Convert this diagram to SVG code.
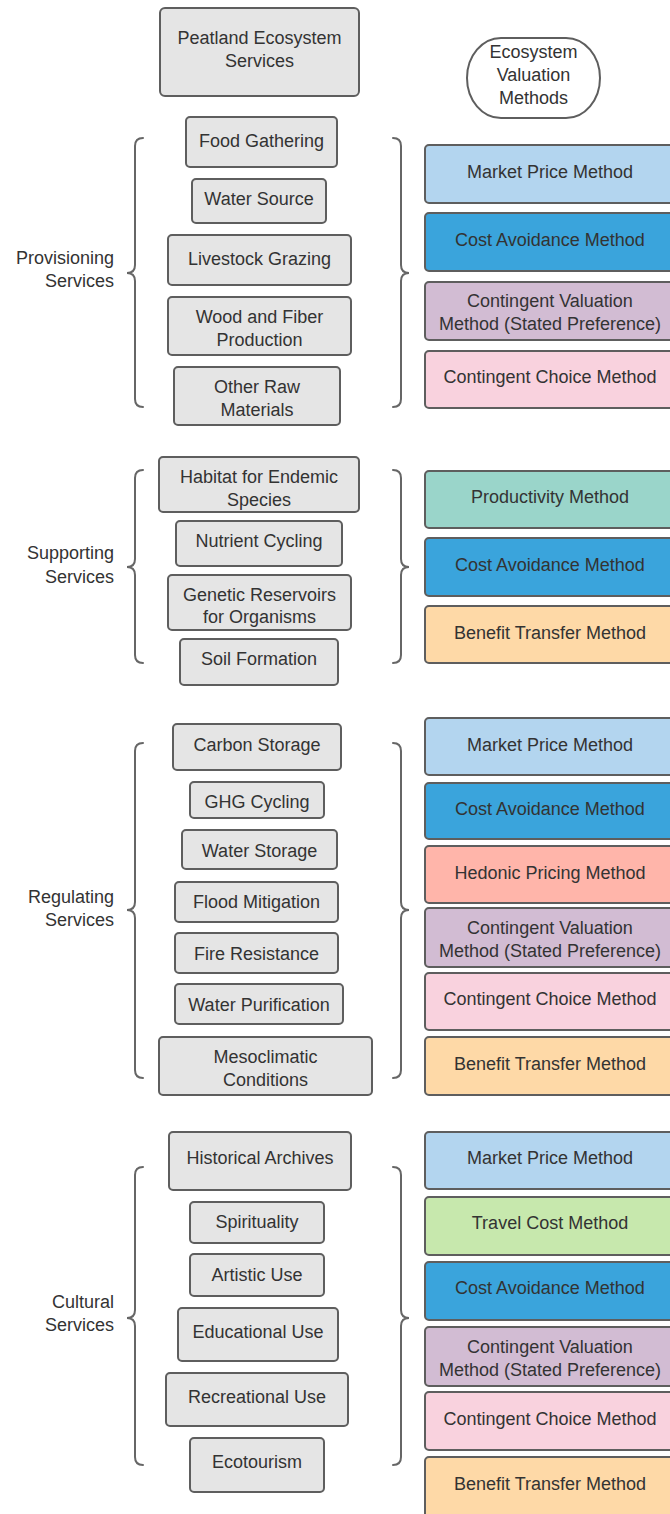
<svg xmlns="http://www.w3.org/2000/svg" width="670" height="1514" viewBox="0 0 670 1514">
  <style>
    text { font-family: "Liberation Sans", Arial, sans-serif; font-size: 18px; fill: #333333; text-anchor: middle; }
    .lbl { text-anchor: end; }
    .svc { fill: #e5e5e5; stroke: #5e5e5e; stroke-width: 2; }
    .m { stroke: #5e5e5e; stroke-width: 2; }
    .mp { fill: #b3d5ef; }
    .ca { fill: #3aa4dc; }
    .cv { fill: #d2bcd3; }
    .cc { fill: #f9d2de; }
    .pr { fill: #9ad5ca; }
    .bt { fill: #fed9a7; }
    .hp { fill: #ffb5aa; }
    .tc { fill: #c7e8ad; }
    .brace { fill: none; stroke: #666666; stroke-width: 2; stroke-linecap: round; }
  </style>

  <!-- headers -->
  <g id="title">
    <rect class="svc" x="160" y="8" width="199" height="88" rx="5"/>
    <text x="259.5" y="44">Peatland Ecosystem</text>
    <text x="259.5" y="67">Services</text>
  </g>
  <g id="methods-title">
    <rect x="467" y="38" width="133" height="80" rx="34" ry="40" fill="#ffffff" stroke="#5e5e5e" stroke-width="2"/>
    <text x="533.5" y="58">Ecosystem</text>
    <text x="533.5" y="81">Valuation</text>
    <text x="533.5" y="104">Methods</text>
  </g>

  <!-- braces grouping each service category -->
  <g id="connectors">
    <path class="brace" d="M143,138 Q135,138 135,146 L135,265 Q135,273 127,273 Q135,273 135,281 L135,399 Q135,407 143,407"/>
    <path class="brace" d="M393,138 Q401,138 401,146 L401,265 Q401,273 409,273 Q401,273 401,281 L401,399 Q401,407 393,407"/>
    <path class="brace" d="M143,470 Q135,470 135,478 L135,559 Q135,567 127,567 Q135,567 135,575 L135,655 Q135,663 143,663"/>
    <path class="brace" d="M393,470 Q401,470 401,478 L401,559 Q401,567 409,567 Q401,567 401,575 L401,655 Q401,663 393,663"/>
    <path class="brace" d="M143,743 Q135,743 135,751 L135,902 Q135,910 127,910 Q135,910 135,918 L135,1070 Q135,1078 143,1078"/>
    <path class="brace" d="M393,743 Q401,743 401,751 L401,902 Q401,910 409,910 Q401,910 401,918 L401,1070 Q401,1078 393,1078"/>
    <path class="brace" d="M143,1167 Q135,1167 135,1175 L135,1310 Q135,1318 127,1318 Q135,1318 135,1326 L135,1457 Q135,1465 143,1465"/>
    <path class="brace" d="M393,1167 Q401,1167 401,1175 L401,1310 Q401,1318 409,1318 Q401,1318 401,1326 L401,1457 Q401,1465 393,1465"/>
  </g>

  <!-- category labels -->
  <g id="label-provisioning"><text class="lbl" x="114" y="264">Provisioning</text><text class="lbl" x="114" y="287">Services</text></g>
  <g id="label-supporting"><text class="lbl" x="114" y="559">Supporting</text><text class="lbl" x="114" y="583">Services</text></g>
  <g id="label-regulating"><text class="lbl" x="114" y="903">Regulating</text><text class="lbl" x="114" y="926">Services</text></g>
  <g id="label-cultural"><text class="lbl" x="114" y="1308">Cultural</text><text class="lbl" x="114" y="1331">Services</text></g>

  <!-- provisioning services -->
  <g id="food-gathering"><rect class="svc" x="186" y="117" width="151" height="50" rx="4"/><text x="261.5" y="147">Food Gathering</text></g>
  <g id="water-source"><rect class="svc" x="192" y="179" width="134" height="44" rx="4"/><text x="259" y="205">Water Source</text></g>
  <g id="livestock-grazing"><rect class="svc" x="168" y="235" width="183" height="50" rx="4"/><text x="259.5" y="265">Livestock Grazing</text></g>
  <g id="wood-fiber"><rect class="svc" x="168" y="297" width="183" height="58" rx="4"/><text x="259.5" y="323">Wood and Fiber</text><text x="259.5" y="346">Production</text></g>
  <g id="other-raw"><rect class="svc" x="174" y="367" width="166" height="58" rx="4"/><text x="257" y="393">Other Raw</text><text x="257" y="416">Materials</text></g>

  <g id="p-market"><rect class="m mp" x="425" y="145" width="252" height="58" rx="4"/><text x="550" y="178">Market Price Method</text></g>
  <g id="p-cost"><rect class="m ca" x="425" y="213" width="252" height="58" rx="4"/><text x="550" y="246">Cost Avoidance Method</text></g>
  <g id="p-cvm"><rect class="m cv" x="425" y="282" width="252" height="58" rx="4"/><text x="550" y="307">Contingent Valuation</text><text x="550" y="330">Method (Stated Preference)</text></g>
  <g id="p-choice"><rect class="m cc" x="425" y="351" width="252" height="57" rx="4"/><text x="550" y="383">Contingent Choice Method</text></g>

  <!-- supporting services -->
  <g id="habitat"><rect class="svc" x="159" y="457" width="200" height="55" rx="4"/><text x="259" y="483">Habitat for Endemic</text><text x="259" y="506">Species</text></g>
  <g id="nutrient"><rect class="svc" x="176" y="521" width="166" height="45" rx="4"/><text x="259" y="547">Nutrient Cycling</text></g>
  <g id="genetic"><rect class="svc" x="168" y="575" width="183" height="55" rx="4"/><text x="259.5" y="601">Genetic Reservoirs</text><text x="259.5" y="623">for Organisms</text></g>
  <g id="soil"><rect class="svc" x="180" y="639" width="158" height="46" rx="4"/><text x="259" y="665">Soil Formation</text></g>

  <g id="s-productivity"><rect class="m pr" x="425" y="471" width="252" height="57" rx="4"/><text x="550" y="503">Productivity Method</text></g>
  <g id="s-cost"><rect class="m ca" x="425" y="538" width="252" height="58" rx="4"/><text x="550" y="571">Cost Avoidance Method</text></g>
  <g id="s-benefit"><rect class="m bt" x="425" y="606" width="252" height="57" rx="4"/><text x="550" y="639">Benefit Transfer Method</text></g>

  <!-- regulating services -->
  <g id="carbon"><rect class="svc" x="173" y="724" width="168" height="46" rx="4"/><text x="257" y="751">Carbon Storage</text></g>
  <g id="ghg"><rect class="svc" x="190" y="782" width="134" height="36" rx="4"/><text x="257" y="808">GHG Cycling</text></g>
  <g id="water-storage"><rect class="svc" x="182" y="830" width="155" height="39" rx="4"/><text x="259.5" y="857">Water Storage</text></g>
  <g id="flood"><rect class="svc" x="175" y="882" width="163" height="40" rx="4"/><text x="256.5" y="908">Flood Mitigation</text></g>
  <g id="fire"><rect class="svc" x="175" y="933" width="163" height="40" rx="4"/><text x="256.5" y="960">Fire Resistance</text></g>
  <g id="purification"><rect class="svc" x="175" y="984" width="168" height="40" rx="4"/><text x="259" y="1011">Water Purification</text></g>
  <g id="mesoclimatic"><rect class="svc" x="159" y="1037" width="213" height="58" rx="4"/><text x="265.5" y="1063">Mesoclimatic</text><text x="265.5" y="1086">Conditions</text></g>

  <g id="r-market"><rect class="m mp" x="425" y="718" width="252" height="57" rx="4"/><text x="550" y="751">Market Price Method</text></g>
  <g id="r-cost"><rect class="m ca" x="425" y="783" width="252" height="56" rx="4"/><text x="550" y="815">Cost Avoidance Method</text></g>
  <g id="r-hedonic"><rect class="m hp" x="425" y="846" width="252" height="57" rx="4"/><text x="550" y="879">Hedonic Pricing Method</text></g>
  <g id="r-cvm"><rect class="m cv" x="425" y="908" width="252" height="59" rx="4"/><text x="550" y="934">Contingent Valuation</text><text x="550" y="957">Method (Stated Preference)</text></g>
  <g id="r-choice"><rect class="m cc" x="425" y="973" width="252" height="57" rx="4"/><text x="550" y="1005">Contingent Choice Method</text></g>
  <g id="r-benefit"><rect class="m bt" x="425" y="1037" width="252" height="58" rx="4"/><text x="550" y="1070">Benefit Transfer Method</text></g>

  <!-- cultural services -->
  <g id="historical"><rect class="svc" x="169" y="1132" width="182" height="58" rx="4"/><text x="260" y="1164">Historical Archives</text></g>
  <g id="spirituality"><rect class="svc" x="190" y="1202" width="134" height="41" rx="4"/><text x="257" y="1228">Spirituality</text></g>
  <g id="artistic"><rect class="svc" x="190" y="1254" width="134" height="42" rx="4"/><text x="257" y="1281">Artistic Use</text></g>
  <g id="educational"><rect class="svc" x="178" y="1308" width="160" height="53" rx="4"/><text x="258" y="1338">Educational Use</text></g>
  <g id="recreational"><rect class="svc" x="166" y="1373" width="182" height="53" rx="4"/><text x="257" y="1403">Recreational Use</text></g>
  <g id="ecotourism"><rect class="svc" x="190" y="1438" width="134" height="54" rx="4"/><text x="257" y="1468">Ecotourism</text></g>

  <g id="c-market"><rect class="m mp" x="425" y="1132" width="252" height="57" rx="4"/><text x="550" y="1164">Market Price Method</text></g>
  <g id="c-travel"><rect class="m tc" x="425" y="1197" width="252" height="58" rx="4"/><text x="550" y="1229">Travel Cost Method</text></g>
  <g id="c-cost"><rect class="m ca" x="425" y="1262" width="252" height="58" rx="4"/><text x="550" y="1294">Cost Avoidance Method</text></g>
  <g id="c-cvm"><rect class="m cv" x="425" y="1327" width="252" height="59" rx="4"/><text x="550" y="1353">Contingent Valuation</text><text x="550" y="1376">Method (Stated Preference)</text></g>
  <g id="c-choice"><rect class="m cc" x="425" y="1392" width="252" height="58" rx="4"/><text x="550" y="1425">Contingent Choice Method</text></g>
  <g id="c-benefit"><rect class="m bt" x="425" y="1457" width="252" height="64" rx="4"/><text x="550" y="1490">Benefit Transfer Method</text></g>
</svg>
